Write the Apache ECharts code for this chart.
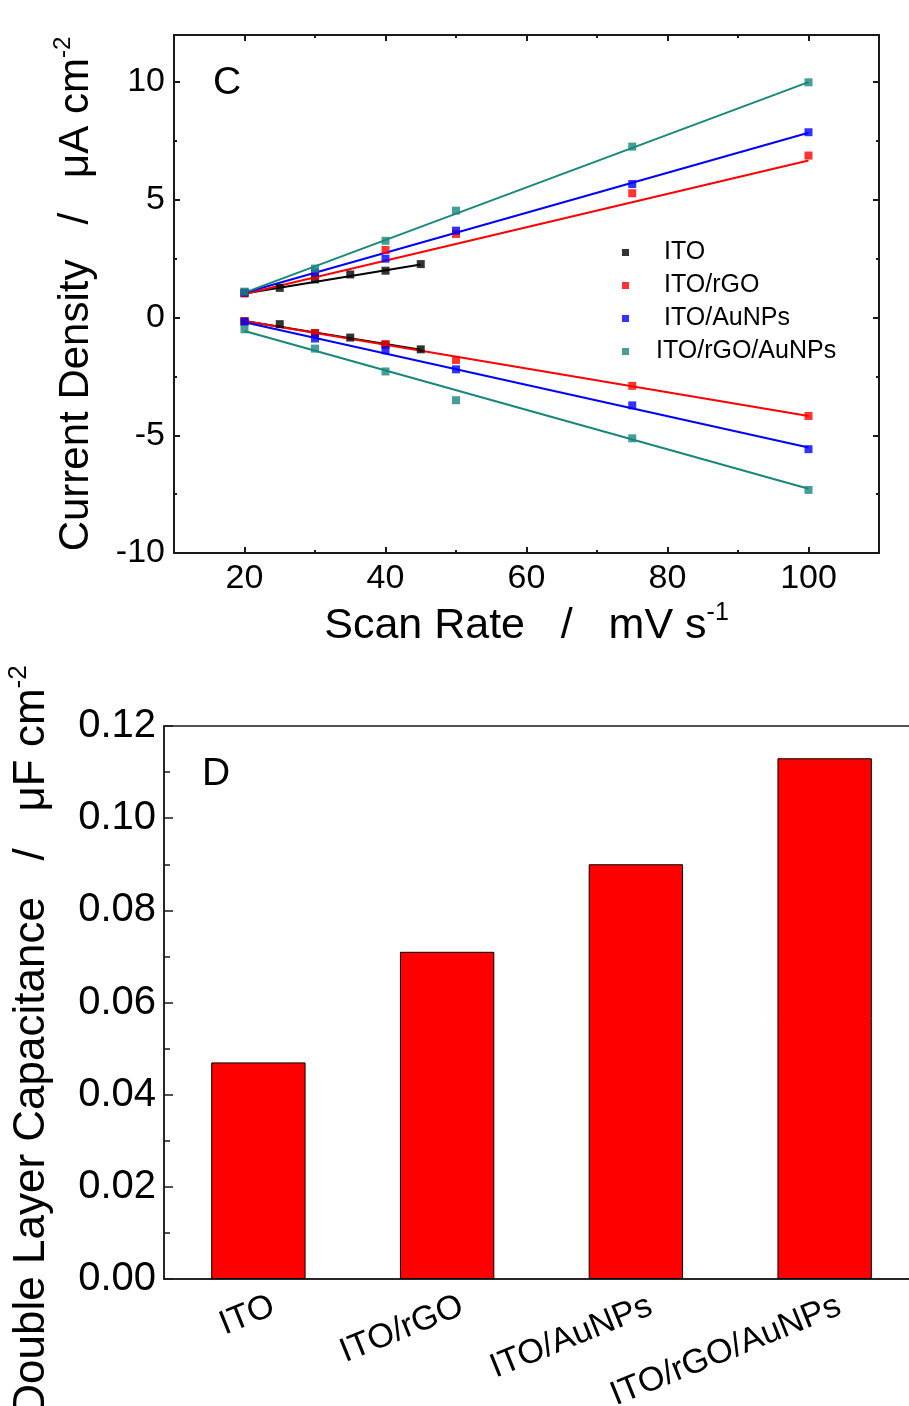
<!DOCTYPE html>
<html>
<head>
<meta charset="utf-8">
<script src="https://cdn.jsdelivr.net/npm/echarts@6/dist/echarts.min.js"></script>
<style>
  html, body { margin: 0; padding: 0; background: #fff; }
  #chart { width: 909px; height: 1406px; }
</style>
</head>
<body>
<div id="chart"></div>
<script>
const FONT = '"Liberation Sans", Arial, Helvetica, sans-serif';

// ---- Panel C: current density vs scan rate ----
const materials = ['ITO', 'ITO/rGO', 'ITO/AuNPs', 'ITO/rGO/AuNPs'];
const colors = ['#000000', '#ff0000', '#0000ff', '#17877d'];

const scanRateITO = [20, 25, 30, 35, 40, 45];
const scanRateOther = [20, 30, 40, 50, 75, 100];

const anodicITO = [1.05, 1.26, 1.62, 1.83, 1.99, 2.27];
const cathodicITO = [-0.16, -0.28, -0.66, -0.85, -1.15, -1.35];
const anodicRGO = [1.02, 1.78, 2.87, 3.55, 5.28, 6.88];
const cathodicRGO = [-0.15, -0.66, -1.13, -1.80, -2.90, -4.18];
const anodicAu = [1.06, 1.91, 2.50, 3.69, 5.67, 7.87];
const cathodicAu = [-0.18, -0.89, -1.39, -2.20, -3.73, -5.59];
const anodicRGOAu = [1.10, 2.08, 3.26, 4.54, 7.26, 9.99];
const cathodicRGOAu = [-0.50, -1.32, -2.29, -3.51, -5.13, -7.32];

// linear fit segments: start/end scan rate and fitted current at each end
const fitRangeITO = [20, 45];
const fitRangeOther = [20, 100];
const fitAnodicITO = [1.02, 2.25];
const fitCathodicITO = [-0.15, -1.37];
const fitAnodicRGO = [1.00, 6.67];
const fitCathodicRGO = [-0.15, -4.18];
const fitAnodicAu = [1.05, 7.85];
const fitCathodicAu = [-0.20, -5.52];
const fitAnodicRGOAu = [1.06, 10.00];
const fitCathodicRGOAu = [-0.57, -7.27];

const xMajor = [20, 40, 60, 80, 100];
const xMinor = [30, 50, 70, 90];
const yMajor = [-10, -5, 0, 5, 10];
const yMinor = [-7.5, -2.5, 2.5, 7.5];

// ---- Panel D: double layer capacitance ----
const electrodes = ['ITO', 'ITO/rGO', 'ITO/AuNPs', 'ITO/rGO/AuNPs'];
const capacitance = [0.047, 0.071, 0.090, 0.113];

const scanRates = [scanRateITO, scanRateOther, scanRateOther, scanRateOther];
const fitRanges = [fitRangeITO, fitRangeOther, fitRangeOther, fitRangeOther];
const anodic = [anodicITO, anodicRGO, anodicAu, anodicRGOAu];
const cathodic = [cathodicITO, cathodicRGO, cathodicAu, cathodicRGOAu];
const fitAnodic = [fitAnodicITO, fitAnodicRGO, fitAnodicAu, fitAnodicRGOAu];
const fitCathodic = [fitCathodicITO, fitCathodicRGO, fitCathodicAu, fitCathodicRGOAu];

const AX = '#1a1a1a';

function xAxisC(position, values, len, withLabels) {
  return {
    type: 'value', gridIndex: 0, position: position, min: 10, max: 110,
    axisLine: { show: true, onZero: false, lineStyle: { color: AX, width: 2 } },
    axisTick: { show: true, inside: true, length: len, customValues: values,
                lineStyle: { color: AX, width: 2 } },
    axisLabel: { show: withLabels, customValues: values, fontSize: 34, margin: 9,
                 color: '#000', fontFamily: FONT },
    splitLine: { show: false }
  };
}
function yAxisC(position, values, len, withLabels) {
  return {
    type: 'value', gridIndex: 0, position: position, min: -10, max: 12,
    axisLine: { show: true, onZero: false, lineStyle: { color: AX, width: 2 } },
    axisTick: { show: true, inside: true, length: len, customValues: values,
                lineStyle: { color: AX, width: 2 } },
    axisLabel: { show: withLabels, customValues: values, fontSize: 34, margin: 9,
                 color: '#000', fontFamily: FONT },
    splitLine: { show: false }
  };
}

function supRich(size, supSize) {
  return {
    m: { fontSize: size, fontFamily: FONT, color: '#000', lineHeight: size + 8 },
    s: { fontSize: supSize, fontFamily: FONT, color: '#000', verticalAlign: 'top', lineHeight: size + 8 }
  };
}

const xAxes = [
  Object.assign(xAxisC('bottom', xMajor, 6, true), {
    name: '{m|Scan Rate   /   mV s}{s|-1}', nameLocation: 'middle', nameGap: 48,
    nameTextStyle: { rich: supRich(43, 25) }
  }),
  xAxisC('bottom', xMinor, 3, false),
  xAxisC('top', xMajor, 6, false),
  xAxisC('top', xMinor, 3, false),
  {
    type: 'category', gridIndex: 1, data: electrodes,
    axisLine: { show: true, lineStyle: { color: AX, width: 1.5 } },
    axisTick: { show: false },
    axisLabel: { rotate: 22, fontSize: 34, margin: 32, color: '#000', fontFamily: FONT,
                 padding: [0, -16, 0, 0] },
    splitLine: { show: false }
  }
];

const yAxes = [
  Object.assign(yAxisC('left', yMajor, 6, true), {
    name: '{m|Current Density   /   \u03bcA cm}{s|-2}', nameLocation: 'middle', nameGap: 73,
    nameTextStyle: { rich: supRich(42, 24) }
  }),
  yAxisC('left', yMinor, 3, false),
  yAxisC('right', yMajor, 6, false),
  yAxisC('right', yMinor, 3, false),
  {
    type: 'value', gridIndex: 1, min: 0, max: 0.12, interval: 0.02,
    axisLine: { show: true, lineStyle: { color: AX, width: 1.5 } },
    axisTick: { show: true, inside: true, length: 9, lineStyle: { color: AX, width: 1.5 } },
    minorTick: { show: true, splitNumber: 2, length: 6, lineStyle: { color: AX, width: 1.5 } },
    axisLabel: { fontSize: 40, margin: 8, color: '#000', fontFamily: FONT,
                 formatter: function (v) { return v.toFixed(2); } },
    splitLine: { show: false },
    minorSplitLine: { show: false },
    name: '{m|Double Layer Capacitance   /   \u03bcF cm}{s|-2}', nameLocation: 'middle', nameGap: 106,
    nameTextStyle: { rich: supRich(44, 26), padding: [0, 76, 0, 0] }
  }
];

const series = [];
materials.forEach(function (m, i) {
  const r = fitRanges[i];
  series.push({
    type: 'line', name: m + ' anodic fit', xAxisIndex: 0, yAxisIndex: 0,
    data: [[r[0], fitAnodic[i][0]], [r[1], fitAnodic[i][1]]],
    showSymbol: false, silent: true, z: 2,
    lineStyle: { color: colors[i], width: 2 }
  });
  series.push({
    type: 'line', name: m + ' cathodic fit', xAxisIndex: 0, yAxisIndex: 0,
    data: [[r[0], fitCathodic[i][0]], [r[1], fitCathodic[i][1]]],
    showSymbol: false, silent: true, z: 2,
    lineStyle: { color: colors[i], width: 2 }
  });
});
materials.forEach(function (m, i) {
  const xs = scanRates[i];
  const pts = xs.map(function (x, k) { return [x, anodic[i][k]]; })
    .concat(xs.map(function (x, k) { return [x, cathodic[i][k]]; }));
  series.push({
    type: 'scatter', name: m, xAxisIndex: 0, yAxisIndex: 0, data: pts,
    symbol: 'rect', symbolSize: 8, z: 3,
    itemStyle: { color: colors[i] }
  });
});
series.push({
  type: 'bar', name: 'Cdl', xAxisIndex: 4, yAxisIndex: 4, data: capacitance,
  barWidth: '50%',
  itemStyle: { color: '#ff0000', borderColor: '#000', borderWidth: 1 }
});

const legendText = { fontSize: 25, lineHeight: 25, color: '#000', fontFamily: FONT, padding: [0, 0, 0, 30] };

const option = {
  animation: false,
  backgroundColor: '#fff',
  textStyle: { fontFamily: FONT },
  title: [
    { text: 'C', left: 208, top: 59, textStyle: { fontSize: 39, fontWeight: 'normal', color: '#000', fontFamily: FONT } },
    { text: 'D', left: 197, top: 750, textStyle: { fontSize: 39, fontWeight: 'normal', color: '#000', fontFamily: FONT } }
  ],
  legend: {
    data: [
      { name: materials[0] },
      { name: materials[1] },
      { name: materials[2] },
      { name: materials[3], textStyle: Object.assign({}, legendText, { padding: [0, 0, 0, 22] }) }
    ],
    orient: 'vertical', left: 622, top: 240, padding: 0,
    icon: 'rect', itemWidth: 7, itemHeight: 7, itemGap: 8,
    textStyle: legendText
  },
  grid: [
    { left: 174, top: 35, width: 705, height: 518, containLabel: false, outerBoundsMode: 'none',
      show: true, borderColor: AX, borderWidth: 2 },
    { left: 164, top: 726, width: 755, height: 553, containLabel: false, outerBoundsMode: 'none',
      show: true, borderColor: AX, borderWidth: 1.5 }
  ],
  xAxis: xAxes,
  yAxis: yAxes,
  series: series
};

const chart = echarts.init(document.getElementById('chart'), null, { renderer: 'canvas' });
chart.setOption(option);
</script>
</body>
</html>
